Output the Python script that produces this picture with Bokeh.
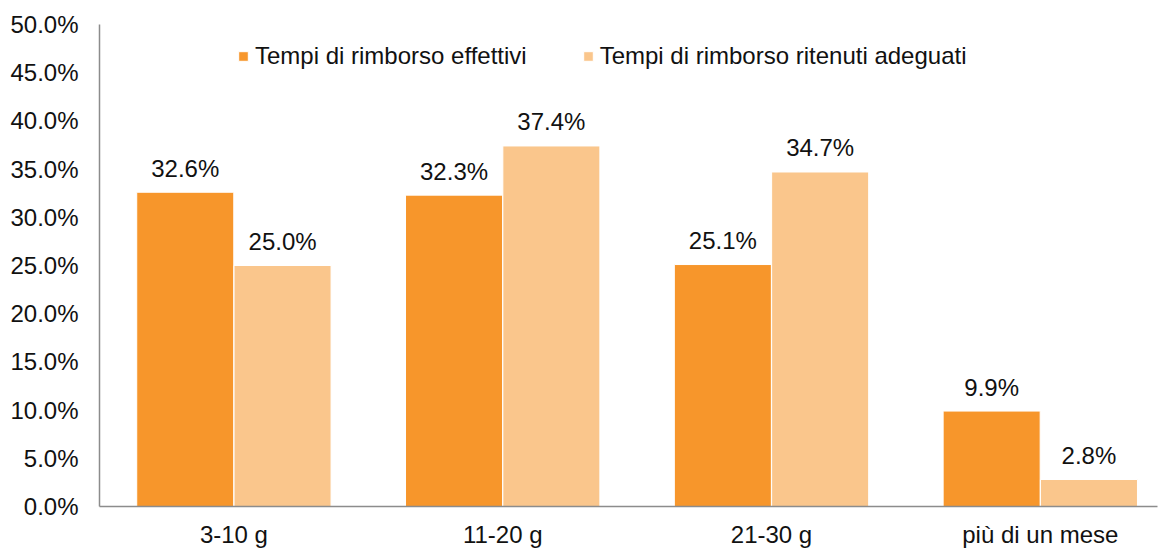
import numpy as np
from bokeh.plotting import figure
from bokeh.models import ColumnDataSource, Range1d, FixedTicker, NumeralTickFormatter, Legend, LegendItem
from bokeh.core.properties import value
from bokeh.embed import file_html
from bokeh.resources import INLINE

categories = ["3-10 g", "11-20 g", "21-30 g", "più di un mese"]
effettivi = [32.6, 32.3, 25.1, 9.9]
adeguati = [25.0, 37.4, 34.7, 2.8]
series_names = ["Tempi di rimborso effettivi", "Tempi di rimborso ritenuti adeguati"]
y_ticks = [0, 5, 10, 15, 20, 25, 30, 35, 40, 45, 50]

FONT = "Liberation Sans"
FS = "24px"
C1 = "#F7962B"
C2 = "#FAC68C"

x = np.arange(len(categories)) + 0.5
off = 0.181
bw = 0.361

src1 = ColumnDataSource(dict(x=x - off, top=[v / 100 for v in effettivi], lab=[f"{v:.1f}%" for v in effettivi]))
src2 = ColumnDataSource(dict(x=x + off, top=[v / 100 for v in adeguati], lab=[f"{v:.1f}%" for v in adeguati]))

p = figure(frame_width=1058, frame_height=482, output_backend="svg", toolbar_location=None,
           x_range=Range1d(0, 3.936), y_range=Range1d(0, 0.5),
           min_border_left=99, min_border_right=1, min_border_top=24, min_border_bottom=10)
p.outline_line_color = None
p.grid.grid_line_color = None

r1 = p.vbar(x="x", top="top", width=bw, source=src1, fill_color=C1, line_color="white", line_width=1)
r2 = p.vbar(x="x", top="top", width=bw, source=src2, fill_color=C2, line_color="white", line_width=1)

for s in (src1, src2):
    p.text(x="x", y="top", text="lab", source=s, text_font=value(FONT), text_font_size=FS,
           text_color="#111111", text_align="center", text_baseline="alphabetic", y_offset=-24)

p.yaxis.ticker = FixedTicker(ticks=[t / 100 for t in y_ticks])
p.yaxis.formatter = NumeralTickFormatter(format="0.0%")
p.xaxis.ticker = FixedTicker(ticks=list(x))
p.xaxis.major_label_overrides = {float(xi): c for xi, c in zip(x, categories)}

for ax in (p.xaxis, p.yaxis):
    ax.axis_line_color = "#8C8C8C"
    ax.axis_line_width = 1.5
    ax.major_tick_line_color = None
    ax.minor_tick_line_color = None
    ax.major_label_text_font = FONT
    ax.major_label_text_font_size = FS
    ax.major_label_text_color = "#111111"
p.yaxis.major_label_standoff = 15
p.xaxis.major_label_standoff = 8

legend = Legend(items=[LegendItem(label=series_names[0], renderers=[r1]),
                       LegendItem(label=series_names[1], renderers=[r2])],
                orientation="horizontal", location=(138, 436))
legend.padding = 0
legend.margin = 0
legend.spacing = 55
legend.glyph_width = 12
legend.glyph_height = 12
legend.label_standoff = 6
legend.label_text_font = FONT
legend.label_text_font_size = FS
legend.label_text_color = "#111111"
legend.border_line_color = None
legend.background_fill_alpha = 0
p.add_layout(legend, "center")

open("out.html", "w").write(file_html(p, INLINE))
